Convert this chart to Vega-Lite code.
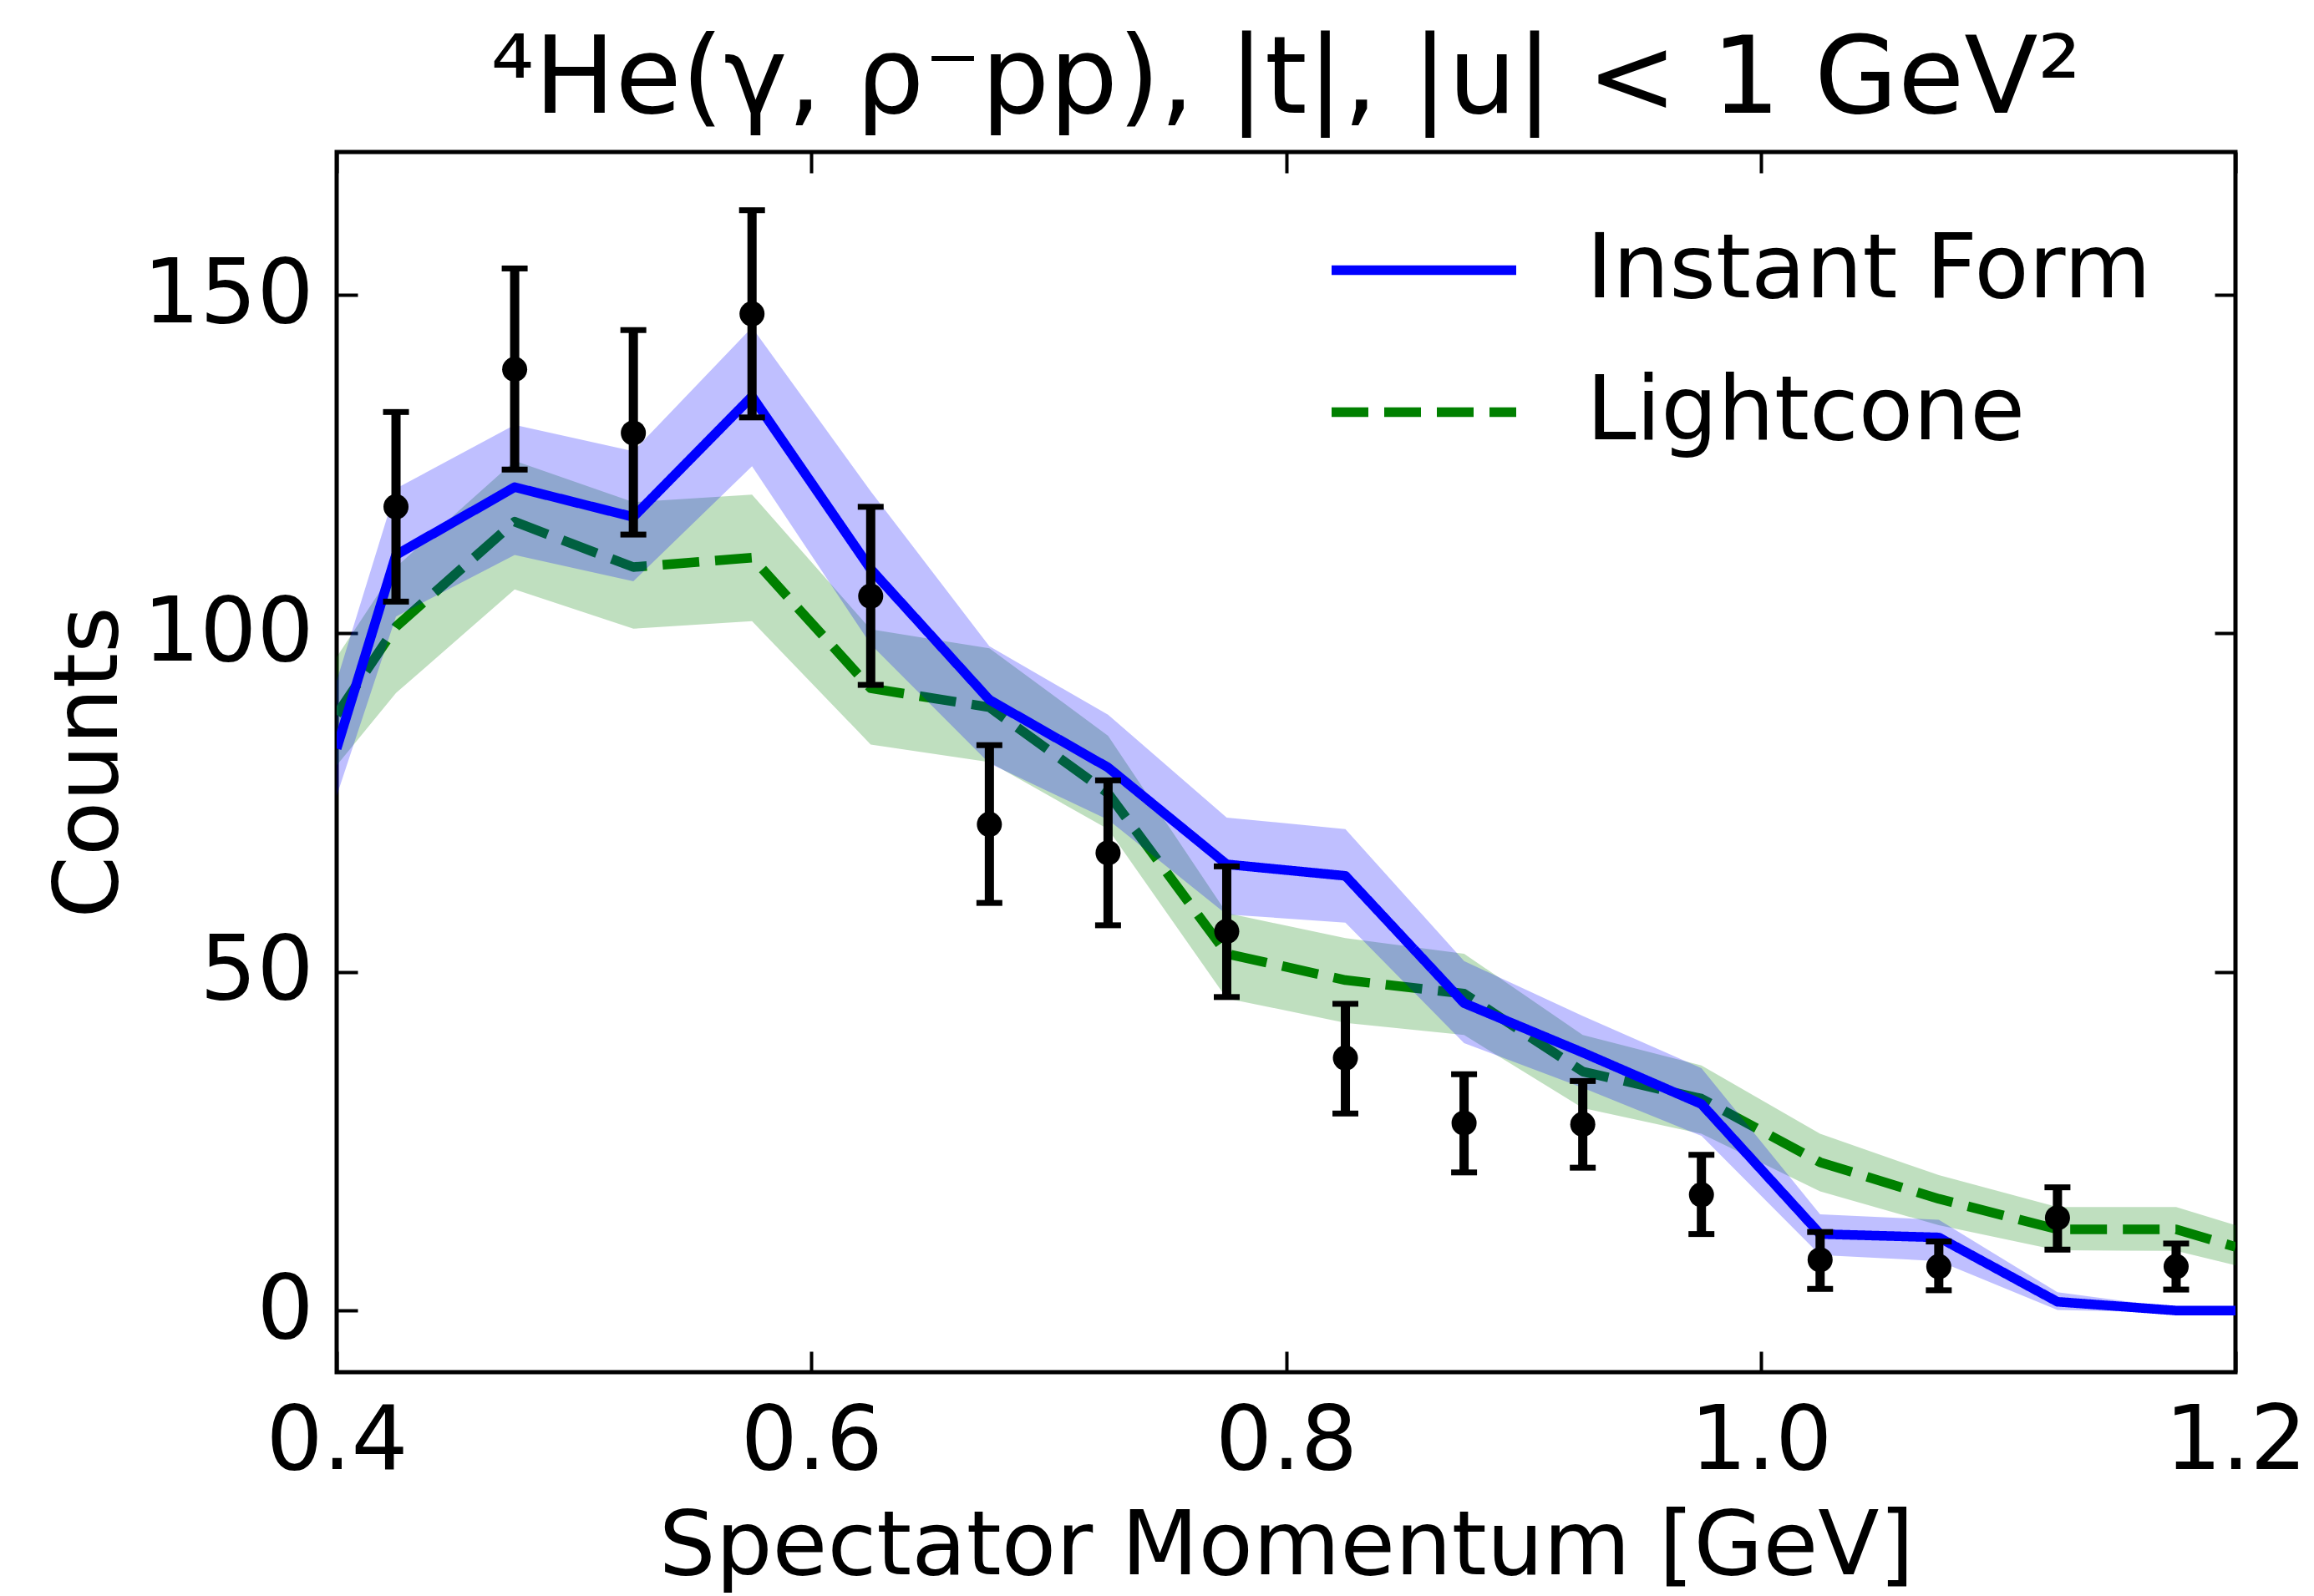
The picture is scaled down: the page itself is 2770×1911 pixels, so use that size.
{
  "$schema": "https://vega.github.io/schema/vega-lite/v6.json",
  "width": 2273,
  "height": 1461,
  "autosize": {"type": "none"},
  "padding": {"left": 403, "top": 182, "right": 94, "bottom": 268},
  "background": "white",
  "title": {
    "text": "⁴He(γ, ρ⁻pp), |t|, |u| < 1 GeV²",
    "font": "DejaVu Sans",
    "fontSize": 129,
    "fontWeight": "normal",
    "color": "black",
    "anchor": "middle",
    "offset": 18
  },
  "datasets": {
    "models": [
      {"x": 0.4, "model": "Instant Form", "y": 83, "lo": 76, "hi": 93},
      {"x": 0.425, "model": "Instant Form", "y": 111.6, "lo": 102.5, "hi": 121.4},
      {"x": 0.475, "model": "Instant Form", "y": 121.6, "lo": 111.6, "hi": 130.8},
      {"x": 0.525, "model": "Instant Form", "y": 117.2, "lo": 107.7, "hi": 126.9},
      {"x": 0.575, "model": "Instant Form", "y": 135.0, "lo": 124.7, "hi": 145.2},
      {"x": 0.625, "model": "Instant Form", "y": 109.5, "lo": 98.4, "hi": 121.0},
      {"x": 0.675, "model": "Instant Form", "y": 90.2, "lo": 80.8, "hi": 98.1},
      {"x": 0.725, "model": "Instant Form", "y": 80.2, "lo": 72.5, "hi": 88.0},
      {"x": 0.775, "model": "Instant Form", "y": 65.9, "lo": 58.5, "hi": 72.8},
      {"x": 0.825, "model": "Instant Form", "y": 64.2, "lo": 57.3, "hi": 71.1},
      {"x": 0.875, "model": "Instant Form", "y": 45.4, "lo": 39.5, "hi": 51.6},
      {"x": 0.925, "model": "Instant Form", "y": 38.1, "lo": 32.9, "hi": 43.5},
      {"x": 0.975, "model": "Instant Form", "y": 30.5, "lo": 25.8, "hi": 35.8},
      {"x": 1.025, "model": "Instant Form", "y": 11.3, "lo": 8.2, "hi": 14.2},
      {"x": 1.075, "model": "Instant Form", "y": 10.8, "lo": 7.3, "hi": 13.4},
      {"x": 1.125, "model": "Instant Form", "y": 1.3, "lo": 0.1, "hi": 2.7},
      {"x": 1.175, "model": "Instant Form", "y": 0, "lo": -0.3, "hi": 0.4},
      {"x": 1.2, "model": "Instant Form", "y": 0, "lo": -0.3, "hi": 0.4},
      {"x": 0.4, "model": "Lightcone", "y": 88, "lo": 80.5, "hi": 96.5},
      {"x": 0.425, "model": "Lightcone", "y": 101, "lo": 91.2, "hi": 109.8},
      {"x": 0.475, "model": "Lightcone", "y": 116.5, "lo": 106.5, "hi": 125.5},
      {"x": 0.525, "model": "Lightcone", "y": 109.8, "lo": 100.7, "hi": 119.4},
      {"x": 0.575, "model": "Lightcone", "y": 111.2, "lo": 101.8, "hi": 120.5},
      {"x": 0.625, "model": "Lightcone", "y": 91.9, "lo": 83.6, "hi": 100.6},
      {"x": 0.675, "model": "Lightcone", "y": 89.1, "lo": 81.0, "hi": 97.8},
      {"x": 0.725, "model": "Lightcone", "y": 76.4, "lo": 71.1, "hi": 84.9},
      {"x": 0.775, "model": "Lightcone", "y": 52.7, "lo": 46.1, "hi": 58.7},
      {"x": 0.825, "model": "Lightcone", "y": 48.8, "lo": 42.5, "hi": 55.0},
      {"x": 0.875, "model": "Lightcone", "y": 46.8, "lo": 40.7, "hi": 52.7},
      {"x": 0.925, "model": "Lightcone", "y": 35.3, "lo": 29.9, "hi": 40.7},
      {"x": 0.975, "model": "Lightcone", "y": 31.3, "lo": 26.1, "hi": 36.2},
      {"x": 1.025, "model": "Lightcone", "y": 21.9, "lo": 17.6, "hi": 26.1},
      {"x": 1.075, "model": "Lightcone", "y": 16.5, "lo": 12.6, "hi": 20.0},
      {"x": 1.125, "model": "Lightcone", "y": 12.0, "lo": 8.9, "hi": 15.3},
      {"x": 1.175, "model": "Lightcone", "y": 12.0, "lo": 8.8, "hi": 15.3},
      {"x": 1.2, "model": "Lightcone", "y": 9.4, "lo": 6.7, "hi": 12.6}
    ],
    "points": [
      {"x": 0.425, "y": 118.7, "lo": 104.7, "hi": 132.7},
      {"x": 0.475, "y": 139.0, "lo": 124.2, "hi": 153.9},
      {"x": 0.525, "y": 129.6, "lo": 114.6, "hi": 144.8},
      {"x": 0.575, "y": 147.2, "lo": 131.9, "hi": 162.5},
      {"x": 0.625, "y": 105.5, "lo": 92.4, "hi": 118.7},
      {"x": 0.675, "y": 71.8, "lo": 60.2, "hi": 83.5},
      {"x": 0.725, "y": 67.6, "lo": 56.9, "hi": 78.3},
      {"x": 0.775, "y": 56.0, "lo": 46.3, "hi": 65.6},
      {"x": 0.825, "y": 37.3, "lo": 29.1, "hi": 45.3},
      {"x": 0.875, "y": 27.7, "lo": 20.4, "hi": 34.9},
      {"x": 0.925, "y": 27.5, "lo": 21.1, "hi": 33.9},
      {"x": 0.975, "y": 17.1, "lo": 11.3, "hi": 23.0},
      {"x": 1.025, "y": 7.5, "lo": 3.2, "hi": 11.6},
      {"x": 1.075, "y": 6.5, "lo": 3.0, "hi": 10.2},
      {"x": 1.125, "y": 13.7, "lo": 9.0, "hi": 18.2},
      {"x": 1.175, "y": 6.5, "lo": 3.1, "hi": 9.9}
    ]
  },
  "layer": [
    {
      "data": {"name": "models"},
      "transform": [{"filter": "datum.model == 'Lightcone'"}],
      "mark": {"type": "area", "color": "#008000", "opacity": 0.25, "clip": true},
      "encoding": {
        "x": {"field": "x", "type": "quantitative", "scale": {"domain": [0.4, 1.2], "nice": false, "zero": false},
              "axis": {"orient": "top", "labels": false, "title": null, "values": [0.4, 0.6, 0.8, 1.0, 1.2]}},
        "y": {"field": "lo", "type": "quantitative", "scale": {"domain": [-9.1, 171.1], "nice": false, "zero": false},
              "axis": {"orient": "right", "labels": false, "title": null, "values": [0, 50, 100, 150]}},
        "y2": {"field": "hi"}
      }
    },
    {
      "data": {"name": "models"},
      "transform": [{"filter": "datum.model == 'Lightcone'"}],
      "mark": {"type": "line", "strokeWidth": 11.5, "strokeCap": "butt", "strokeJoin": "round", "clip": true},
      "encoding": {
        "x": {"field": "x", "type": "quantitative", "scale": {"domain": [0.4, 1.2], "nice": false, "zero": false}, "axis": null},
        "y": {"field": "y", "type": "quantitative", "scale": {"domain": [-9.1, 171.1], "nice": false, "zero": false}, "axis": null},
        "stroke": {"field": "model", "type": "nominal", "scale": {"domain": ["Instant Form", "Lightcone"], "range": ["#0000ff", "#008000"]}, "legend": {"title": null}},
        "strokeDash": {"field": "model", "type": "nominal", "scale": {"domain": ["Instant Form", "Lightcone"], "range": [[1, 0], [44, 19]]}, "legend": {"title": null}}
      }
    },
    {
      "data": {"name": "models"},
      "transform": [{"filter": "datum.model == 'Instant Form'"}],
      "mark": {"type": "area", "color": "#0000ff", "opacity": 0.25, "clip": true},
      "encoding": {
        "x": {"field": "x", "type": "quantitative", "scale": {"domain": [0.4, 1.2], "nice": false, "zero": false}, "axis": null},
        "y": {"field": "lo", "type": "quantitative", "scale": {"domain": [-9.1, 171.1], "nice": false, "zero": false}, "axis": null},
        "y2": {"field": "hi"}
      }
    },
    {
      "data": {"name": "models"},
      "transform": [{"filter": "datum.model == 'Instant Form'"}],
      "mark": {"type": "line", "strokeWidth": 11.5, "strokeCap": "butt", "strokeJoin": "round", "clip": true},
      "encoding": {
        "x": {"field": "x", "type": "quantitative", "scale": {"domain": [0.4, 1.2], "nice": false, "zero": false}, "axis": null},
        "y": {"field": "y", "type": "quantitative", "scale": {"domain": [-9.1, 171.1], "nice": false, "zero": false}, "axis": null},
        "stroke": {"field": "model", "type": "nominal", "scale": {"domain": ["Instant Form", "Lightcone"], "range": ["#0000ff", "#008000"]}, "legend": {"title": null}},
        "strokeDash": {"field": "model", "type": "nominal", "scale": {"domain": ["Instant Form", "Lightcone"], "range": [[1, 0], [44, 19]]}, "legend": {"title": null}}
      }
    },
    {
      "data": {"name": "points"},
      "mark": {"type": "rule", "color": "black", "strokeWidth": 11},
      "encoding": {
        "x": {"field": "x", "type": "quantitative", "scale": {"domain": [0.4, 1.2], "nice": false, "zero": false}, "axis": null},
        "y": {"field": "lo", "type": "quantitative", "scale": {"domain": [-9.1, 171.1], "nice": false, "zero": false}, "axis": null},
        "y2": {"field": "hi"}
      }
    },
    {
      "data": {"name": "points"},
      "mark": {"type": "tick", "color": "black", "orient": "horizontal", "size": 31, "thickness": 7, "opacity": 1},
      "encoding": {
        "x": {"field": "x", "type": "quantitative", "scale": {"domain": [0.4, 1.2], "nice": false, "zero": false}, "axis": null},
        "y": {"field": "lo", "type": "quantitative", "scale": {"domain": [-9.1, 171.1], "nice": false, "zero": false}, "axis": null}
      }
    },
    {
      "data": {"name": "points"},
      "mark": {"type": "tick", "color": "black", "orient": "horizontal", "size": 31, "thickness": 7, "opacity": 1},
      "encoding": {
        "x": {"field": "x", "type": "quantitative", "scale": {"domain": [0.4, 1.2], "nice": false, "zero": false}, "axis": null},
        "y": {"field": "hi", "type": "quantitative", "scale": {"domain": [-9.1, 171.1], "nice": false, "zero": false}, "axis": null}
      }
    },
    {
      "data": {"name": "points"},
      "mark": {"type": "circle", "color": "black", "size": 900, "opacity": 1},
      "encoding": {
        "x": {"field": "x", "type": "quantitative", "scale": {"domain": [0.4, 1.2], "nice": false, "zero": false},
              "axis": {"orient": "bottom", "title": "Spectator Momentum [GeV]", "values": [0.4, 0.6, 0.8, 1.0, 1.2], "format": ".1f", "labelPadding": 55, "titlePadding": 20}},
        "y": {"field": "y", "type": "quantitative", "scale": {"domain": [-9.1, 171.1], "nice": false, "zero": false},
              "axis": {"orient": "left", "title": "Counts", "values": [0, 50, 100, 150], "format": "d", "labelPadding": 53, "titlePadding": 42}}
      }
    }
  ],
  "resolve": {"axis": {"x": "independent", "y": "independent"}},
  "config": {
    "font": "DejaVu Sans",
    "view": {"stroke": "black", "strokeWidth": 5},
    "axis": {
      "domain": false,
      "grid": false,
      "ticks": true,
      "tickSize": -25,
      "tickWidth": 4,
      "tickColor": "black",
      "labelFont": "DejaVu Sans",
      "labelFontSize": 107,
      "labelColor": "black",
      "labelFlush": false,
      "labelOverlap": false,
      "labelLimit": 0,
      "titleFont": "DejaVu Sans",
      "titleFontSize": 107,
      "titleFontWeight": "normal",
      "titleColor": "black",
      "titleLimit": 0
    },
    "legend": {
      "orient": "none",
      "legendX": 1185,
      "legendY": 25,
      "padding": 0,
      "symbolType": "stroke",
      "symbolSize": 48841,
      "symbolStrokeWidth": 11.5,
      "labelFont": "DejaVu Sans",
      "labelFontSize": 107,
      "labelColor": "black",
      "labelOffset": 78,
      "labelLimit": 0,
      "rowPadding": -87,
      "symbolOpacity": 1
    }
  }
}
